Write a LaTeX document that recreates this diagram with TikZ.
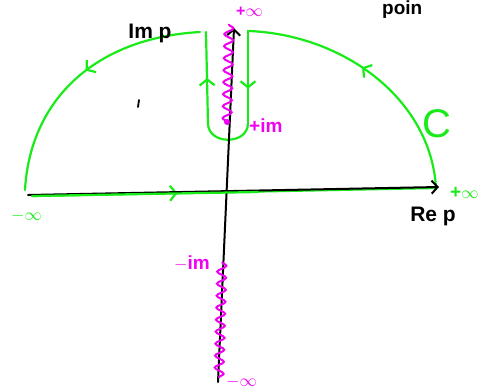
\documentclass[tikz,border=0pt]{standalone}
\usepackage{fontspec}
\setmainfont{Liberation Sans}
\usetikzlibrary{arrows.meta,decorations.pathmorphing,decorations.markings}
\definecolor{cgreen}{RGB}{25,235,25}
\definecolor{cmag}{RGB}{240,0,240}
\tikzset{
 contour/.style={draw=cgreen, line width=2.2pt, line cap=round, line join=round},
 axisline/.style={draw=black, line width=2pt, line cap=round, -{Straight Barb[length=6pt,width=13pt]}},
 midarrow/.style={postaction={decorate}, decoration={markings, mark=at position #1 with {\arrow{Straight Barb[length=6pt,width=15pt]}}}},
 cut/.style={draw=cmag, line width=2pt, decorate, decoration={snake, amplitude=4.5pt, segment length=12pt}},
 glbl/.style={text=cgreen, font=\fontsize{19}{19}\selectfont\bfseries, inner sep=0pt},
 mlbl/.style={text=cmag, font=\fontsize{19}{19}\selectfont\bfseries, inner sep=0pt},
 blbl/.style={text=black, font=\fontsize{21}{21}\selectfont\bfseries, inner sep=0pt}
}
\begin{document}
\begin{tikzpicture}[x=1pt,y=-1pt]
\clip (0,0) rectangle (493,389);
% named points
\coordinate (RL) at (32,196);
\coordinate (RM) at (258,192);
\coordinate (RR) at (436,188);
\coordinate (TR) at (249,31);
\coordinate (KR) at (248,124);
\coordinate (KL) at (208,124);
\coordinate (TL) at (206,32);
\coordinate (AL) at (200,32);
\coordinate (BL) at (25,190);
\coordinate (XL) at (28,195);
\coordinate (XR) at (439,187);
\coordinate (YB) at (218,382);
\coordinate (YT) at (234,28);
\coordinate (CT) at (229,24);
\coordinate (CB) at (227,122);
\coordinate (DT) at (222,262);
\coordinate (DB) at (219,378);
% contour C
\draw[contour, midarrow=0.36] (RL) -- (RR);
\draw[contour, midarrow=0.55] (RR) .. controls (431,100) and (345,35) .. (TR);
\draw[contour] (TR) -- (248,31);
\draw[contour, midarrow=0.62] (248,31) -- (KR);
\draw[contour] (KR) .. controls (247,145) and (209,145) .. (KL);
\draw[contour, midarrow=0.5] (KL) -- (TL);
\draw[contour, midarrow=0.47] (AL) .. controls (95,38) and (30,100) .. (BL);
% axes
\draw[axisline] (XL) -- (XR);
\draw[axisline] (YB) -- (YT);
\draw[contour] (RL) -- (RM);
% branch cuts
\draw[cut] (CB) -- (CT);
\fill[cmag] (CB) circle (3pt);
\draw[cut] (DT) -- (DB);
% stray tick
\coordinate (S1) at (139,100);
\coordinate (S2) at (138,107);
\draw[line width=1.8pt, line cap=round] (S1) -- (S2);
% labels
\node[mlbl, font=\fontsize{16}{16}\selectfont\bfseries, anchor=west] (pinf) at (236,12) {+$\infty$};
\node[mlbl, anchor=west] (pim) at (249,126) {+im};
\node[mlbl, anchor=east] (mim) at (210,263) {$-$im};
\node[mlbl, font=\fontsize{16}{16}\selectfont\bfseries, anchor=west] (minf) at (226,382) {$-\infty$};
\node[glbl, anchor=west] (gpinf) at (450,193) {+$\infty$};
\node[glbl, anchor=west] (gminf) at (11,216) {$-\infty$};
\node[text=cgreen, font=\fontsize{40}{40}\selectfont, inner sep=0pt] (C) at (437,124) {C};
\node[blbl] (im) at (150,33) {Im p};
\node[blbl] (re) at (433,216) {Re p};
\node[blbl, font=\fontsize{19}{19}\selectfont\bfseries, anchor=west] (poin) at (382,10) {poin};
\end{tikzpicture}
\end{document}
